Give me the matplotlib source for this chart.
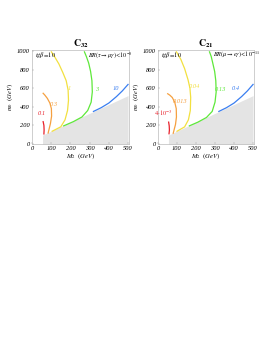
import matplotlib
matplotlib.use('Agg')
import matplotlib.pyplot as plt

plt.rcParams['font.family'] = ['Liberation Serif', 'DejaVu Serif']
plt.rcParams['mathtext.fontset'] = 'stix'

# excluded region boundary (gray)
gray_x = [55, 500]
gray_y = [96, 520]

# C32 panel, contours of C32 for BR(tau->mu gamma) < 1e-8
red_32_x = [62, 63, 62, 58]
red_32_y = [108, 150, 200, 240]
orange_32_x = [84, 96, 102, 101, 93, 80, 67, 58]
orange_32_y = [118, 220, 300, 380, 440, 490, 525, 545]
yellow_32_x = [105, 150, 172, 185, 190, 188, 178, 160, 140, 120, 101]
yellow_32_y = [137, 185, 260, 360, 470, 580, 680, 770, 860, 930, 990]
green_32_x = [165, 215, 260, 290, 308, 314, 312, 305, 295, 283, 273]
green_32_y = [195, 240, 290, 360, 450, 560, 680, 780, 870, 940, 990]
blue_32_x = [320, 360, 400, 440, 470, 500]
blue_32_y = [350, 390, 440, 510, 570, 640]
labels_32 = ['0.1', '0.3', '1', '3', '10']
label_pos_32 = [(53, 327), (113, 425), (196, 600), (335, 590), (440, 595)]

# C21 panel, contours of C21 for BR(mu->e gamma) < 1e-11
red_21_x = [58, 60, 59, 56]
red_21_y = [110, 150, 195, 235]
orange_21_x = [80, 92, 97, 96, 88, 75, 62, 51]
orange_21_y = [115, 210, 290, 380, 450, 500, 525, 540]
yellow_21_x = [100, 140, 160, 170, 172, 168, 158, 140, 120, 97]
yellow_21_y = [137, 184, 260, 360, 500, 600, 690, 810, 910, 990]
green_21_x = [165, 210, 255, 285, 300, 306, 304, 298, 288, 280, 271]
green_21_y = [195, 235, 285, 350, 450, 560, 680, 780, 870, 940, 990]
blue_21_x = [320, 360, 400, 440, 470, 500]
blue_21_y = [350, 390, 440, 510, 570, 640]
labels_21 = [r'$4{\cdot}10^{-3}$', '0.013', '0.04', '0.13', '0.4']
label_pos_21 = [(26, 327), (115, 460), (193, 617), (331, 582), (409, 599)]

colors = ['#e8202a', '#f5a040', '#f2e040', '#5ee83a', '#3a7ef0']


def draw_panel(ax, title, xlab, curves, labels, label_pos, br_text):
    ax.fill_between(gray_x, [0, 0], gray_y, color='#e4e4e4', lw=0)
    for (cx, cy), c in zip(curves, colors):
        ax.plot(cx, cy, color=c, lw=0.9)
    for lab, (lx, ly), c in zip(labels, label_pos, colors):
        ax.text(lx, ly, lab, color=c, fontsize=4.6, style='italic',
                ha='center', va='center')
    ax.text(16, 955, r'$tg\beta\!=\!10$', fontsize=4.6, va='center')
    ax.text(290, 955, br_text, fontsize=4.4, va='center')
    ax.set_xlim(0, 505)
    ax.set_ylim(0, 1010)
    ax.set_xticks([0, 100, 200, 300, 400, 500])
    ax.set_yticks([0, 200, 400, 600, 800, 1000])
    ax.tick_params(labelsize=4.6, length=1.5, width=0.3, pad=1.5,
                   direction='in', color='#999999')
    for t in ax.get_xticklabels() + ax.get_yticklabels():
        t.set_style('italic')
    for s in ax.spines.values():
        s.set_color('#aaaaaa')
        s.set_linewidth(0.4)
    ax.set_title(title, fontsize=7, pad=2)
    ax.set_xlabel(xlab, fontsize=4.8, labelpad=0.5)
    ax.set_ylabel(r'$m_0\ \ (GeV)$', fontsize=4.8, labelpad=1.5)


fig = plt.figure(figsize=(2.74, 3.54), dpi=100)
ax1 = fig.add_axes([32 / 274, 1 - 144 / 354, 97 / 274, 94 / 354])
ax2 = fig.add_axes([158 / 274, 1 - 144 / 354, 96 / 274, 94 / 354])

draw_panel(ax1, r'$\mathbf{C_{32}}$', r'$M_2\ \ (GeV)$',
           [(red_32_x, red_32_y), (orange_32_x, orange_32_y),
            (yellow_32_x, yellow_32_y), (green_32_x, green_32_y),
            (blue_32_x, blue_32_y)],
           labels_32, label_pos_32, r'$BR(\tau\to\mu\gamma)\!<\!10^{-8}$')
draw_panel(ax2, r'$\mathbf{C_{21}}$', r'$M_2\ \ (GeV)$',
           [(red_21_x, red_21_y), (orange_21_x, orange_21_y),
            (yellow_21_x, yellow_21_y), (green_21_x, green_21_y),
            (blue_21_x, blue_21_y)],
           labels_21, label_pos_21, r'$BR(\mu\to e\gamma)\!<\!10^{-11}$')

fig.savefig('out.png', dpi=100)
